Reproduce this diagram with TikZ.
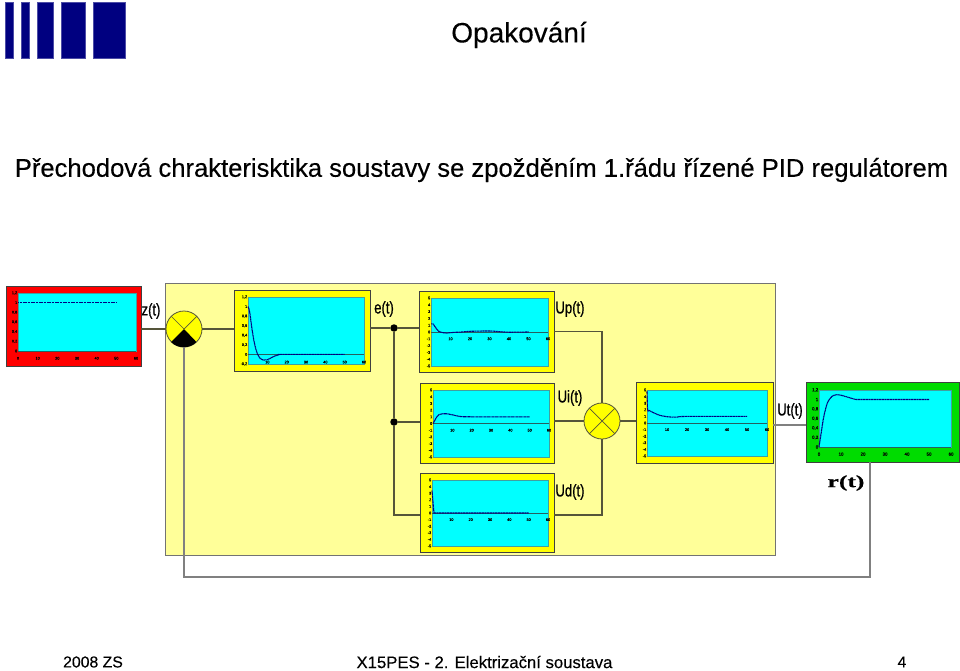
\documentclass[tikz,border=0pt]{standalone}
\usepackage{fontspec}
\setmainfont{Liberation Sans}
\newfontfamily\headfont{Liberation Sans}[FakeBold=0.25]
\newfontfamily\labelfont{Liberation Sans}[FakeBold=0.8]
\newfontfamily\rfont{Liberation Serif}[FakeBold=0.6]
\usetikzlibrary{fit}

\definecolor{logoblue}{HTML}{000080}
\definecolor{plantyellow}{HTML}{FFFF99}
\definecolor{frameyellow}{HTML}{FFFF00}
\definecolor{framered}{HTML}{FF0000}
\definecolor{framegreen}{HTML}{00DC00}
\definecolor{plotcyan}{HTML}{00FFFF}
\definecolor{plotedge}{HTML}{40A0A0}
\definecolor{wiregray}{HTML}{55553A}

\newcommand{\chartaxes}[5]{
  \draw[plotbg] (0,#1) rectangle (60,#2);
  \draw[axisline] (0,0) -- (60,0);
  \foreach \v in {#3}
    \node[ticktext,anchor=east] at (0,\v) {\pgfmathprintnumber{\v}};
  \foreach \v in {#4}
    \node[ticktext] at (\v,#5) {\pgfmathprintnumber{\v}};
}

\begin{document}
\begin{tikzpicture}[x=1pt,y=-1pt]
  % Styles
  \tikzset{
    plotarea/.style args={#1/#2/#3/#4/#5/#6}{
      shift={({#1},{#4+(#5)*(#4-#2)/(#6-(#5))})},
      xscale={(#3-#1)/60},
      yscale={-(#4-#2)/(#6-(#5))}},
    bar/.style={fill=logoblue, draw=logoblue!70!white, line width=0.5pt},
    chartframe/.style={draw=black!75, line width=0.8pt, inner sep=0pt},
    plotbg/.style={fill=plotcyan, draw=plotedge, line width=0.7pt},
    axisline/.style={draw=plotedge!60!black, line width=0.7pt},
    ticktext/.style={font=\headfont\fontsize{3.8}{4}\selectfont, text=black, inner sep=0.6pt},
    curve/.style={draw=logoblue, line width=1.1pt, dash pattern=on 1.2pt off 0.4pt},
    wire/.style={draw=wiregray, line width=1.2pt},
    sumnode/.style={circle, draw=wiregray, fill=frameyellow, line width=0.8pt, minimum size=36pt, inner sep=0pt},
    dotnode/.style={circle, fill=black, minimum size=7.5pt, inner sep=0pt},
    sig/.style={font=\labelfont\fontsize{17}{18}\selectfont, xscale=0.77, inner sep=0pt},
  }
  \pgfkeys{/pgf/number format/.cd, use comma, 1000 sep={}, assume math mode=true}

  \useasboundingbox (0,0) rectangle (960,671);

  % Logo
  \foreach \xa/\xb in {5/13, 21/29, 37/53, 61/85, 93/125}
    \draw[bar] (\xa,2) rectangle (\xb,58);

  % Texty
  \node[font=\headfont\fontsize{28}{30}\selectfont] (title) at (519,35) {Opakování};
  \node[font=\headfont\fontsize{25.6}{28}\selectfont] (subtitle) at (481.5,170) {Přechodová chrakterisktika soustavy se zpožděním 1.řádu řízené PID regulátorem};
  \node[font=\headfont\fontsize{15.8}{18}\selectfont] (year) at (93,662) {2008 ZS};
  \node[font=\headfont\fontsize{16.7}{18}\selectfont] (course) at (484.5,662) {X15PES - 2. Elektrizační soustava};
  \node[font=\headfont\fontsize{15.8}{18}\selectfont] (page) at (902,662) {4};

  % Pozadi regulatoru
  \node[fill=plantyellow, draw=black!55, line width=0.8pt, inner sep=0pt, fit={(165,283) (775,555)}] (pid) {};

  % Grafy
  \node[chartframe, fill=framered, fit={(6,286) (141,366)}] (zchart) {};
  \begin{scope}[plotarea={18/293/136/351/0/1.2}]
    \chartaxes{0}{1.2}{0,0.2,0.4,0.6,0.8,1,1.2}{0,10,20,30,40,50,60}{-0.15}
    \draw[curve] (0,1) -- (50,1);
  \end{scope}

  \node[chartframe, fill=frameyellow, fit={(234,290) (370,371)}] (echart) {};
  \begin{scope}[plotarea={248/297/364/364/-0.2/1.2}]
    \chartaxes{-0.2}{1.2}{-0.2,0,0.2,0.4,0.6,0.8,1,1.2}{10,20,30,40,50,60}{-0.16}
    \draw[curve] plot[smooth] coordinates {(0,1) (0.5,0.95) (1,0.85) (2,0.55) (3,0.3) (4,0.12) (5,0) (6,-0.07) (8,-0.12) (10,-0.11) (12,-0.07) (14,-0.03) (16,-0.005) (18,0) (50,0)};
  \end{scope}

  \node[chartframe, fill=frameyellow, fit={(419,291) (554,372)}] (upchart) {};
  \begin{scope}[plotarea={431/298/548/366/-5/5}]
    \chartaxes{-5}{5}{-5,...,5}{10,20,30,40,50,60}{-1}
    \draw[curve] plot[smooth] coordinates {(0,1.2) (1,1.2) (2,0.8) (3,0.4) (4,0.1) (6,-0.1) (8,-0.15) (10,-0.1) (12,-0.05) (16,0) (20,0.1) (30,0.15) (35,0.05) (40,-0.03) (50,0)};
  \end{scope}

  \node[chartframe, fill=frameyellow, fit={(420,383) (554,463)}] (uichart) {};
  \begin{scope}[plotarea={433/390/549/457/-5/5}]
    \chartaxes{-5}{5}{-5,...,5}{10,20,30,40,50,60}{-1}
    \draw[curve] plot[smooth] coordinates {(0,0) (1,0.5) (2,1) (3,1.3) (5,1.45) (7,1.45) (10,1.3) (14,1.05) (20,1) (50,1)};
  \end{scope}

  \node[chartframe, fill=frameyellow, fit={(420,473) (554,552)}] (udchart) {};
  \begin{scope}[plotarea={432/480/548/546/-5/5}]
    \chartaxes{-5}{5}{-5,...,5}{10,20,30,40,50,60}{-1}
    \draw[curve] (0,3.4) -- (1,0) -- (50,0);
  \end{scope}

  \node[chartframe, fill=frameyellow, fit={(636,382) (773,463)}] (utchart) {};
  \begin{scope}[plotarea={647/390/767/456/-5/5}]
    \chartaxes{-5}{5}{-5,...,5}{10,20,30,40,50,60}{-1}
    \draw[curve] plot[smooth] coordinates {(0,4.8) (0.3,2) (1,1.9) (3,1.6) (6,1.2) (9,1) (12,0.9) (15,0.9) (20,1) (50,1)};
  \end{scope}

  \node[chartframe, fill=framegreen, fit={(806,382) (959,462)}] (rchart) {};
  \begin{scope}[plotarea={819/390/951/447/0/1.2}, ticktext/.append style={font=\headfont\fontsize{4.4}{5}\selectfont}]
    \chartaxes{0}{1.2}{0,0.2,0.4,0.6,0.8,1,1.2}{0,10,20,30,40,50,60}{-0.15}
    \draw[curve] plot[smooth] coordinates {(0,0) (1,0.3) (2,0.6) (3,0.8) (4,0.95) (6,1.07) (8,1.1) (10,1.09) (13,1.05) (16,1.01) (19,1) (50,1)};
  \end{scope}

  % Sumacni cleny a uzly
  \node[sumnode] (sumz) at (184,329) {};
  \fill[black] (sumz.center) -- (sumz.-135) arc[start angle=-135, end angle=-45, radius=18pt] -- cycle;
  \draw[wire, line width=0.7pt] (sumz.center) -- (sumz.45) (sumz.center) -- (sumz.135);
  \node[sumnode] (sumu) at (602,421) {};
  \draw[wire, line width=0.7pt] (sumu.45) -- (sumu.-135) (sumu.135) -- (sumu.-45);
  \node[dotnode] (dote) at (394,328) {};
  \node[dotnode] (dotu) at (394,422) {};

  % Spoje
  \coordinate (udin) at (420,515);
  \coordinate (udout) at (554,515);
  \coordinate (utout) at (790,425);
  \coordinate (fb) at (870,577);
  \draw[wire] (zchart.east |- sumz) -- (sumz.west);
  \draw[wire] (sumz.east) -- (echart.west |- sumz);
  \draw[wire] (echart.east |- dote) -- (dote) -- (upchart.west |- dote);
  \draw[wire] (dote) -- (dotu) |- (udin);
  \draw[wire] (dotu) -- (uichart.west |- dotu);
  \draw[wire] (upchart.east) -| (sumu.north);
  \draw[wire] (udout) -| (sumu.south);
  \draw[wire] (uichart.east |- sumu) -- (sumu.west);
  \draw[wire] (sumu.east) -- (utchart.west |- sumu);
  \draw[wire, gray] (utchart.east |- utout) -- (rchart.west |- utout);
  \draw[wire, gray] (rchart.south -| fb) -- (fb) -- (sumz.south |- fb) -- (sumz.south);

  % Signaly
  \node[sig] (zlabel) at (151,311) {z(t)};
  \node[sig] (elabel) at (384,309) {e(t)};
  \node[sig] (uplabel) at (570,309) {Up(t)};
  \node[sig] (uilabel) at (570,398) {Ui(t)};
  \node[sig] (udlabel) at (570,492) {Ud(t)};
  \node[sig] (utlabel) at (790,411) {Ut(t)};
  \node[font=\rfont\bfseries\fontsize{17}{18}\selectfont, xscale=1.5, inner sep=0pt] (rlabel) at (846,483) {r(t)};
\end{tikzpicture}
\end{document}
